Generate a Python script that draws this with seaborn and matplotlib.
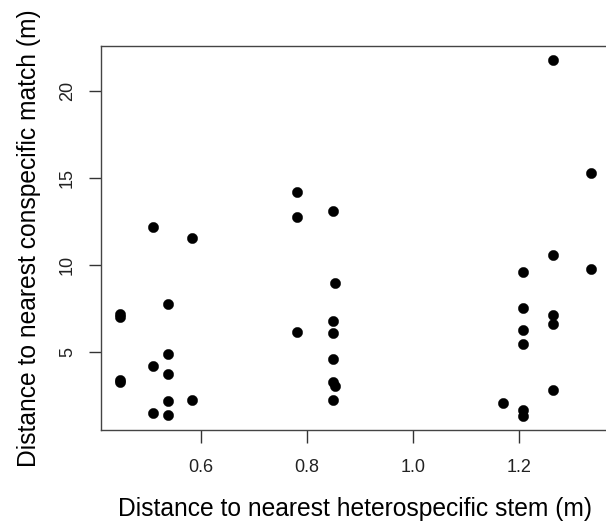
import matplotlib
matplotlib.use("Agg")
import matplotlib.pyplot as plt
import seaborn as sns
import pandas as pd

hetero_dist = [0.447, 0.447, 0.447, 0.447,
               0.509, 0.509, 0.509,
               0.538, 0.538, 0.538, 0.538, 0.538,
               0.583, 0.583,
               0.781, 0.781, 0.781,
               0.849, 0.854, 0.849, 0.849, 0.849, 0.849, 0.854, 0.849,
               1.170,
               1.208, 1.208, 1.208, 1.208, 1.208, 1.208,
               1.265, 1.265, 1.265, 1.265, 1.265,
               1.337, 1.337]
consp_dist = [7.19, 7.00, 3.35, 3.23,
              12.16, 4.19, 1.45,
              7.75, 4.85, 3.73, 2.16, 1.35,
              11.55, 2.22,
              14.16, 12.76, 6.11,
              13.08, 8.96, 6.75, 6.07, 4.58, 3.23, 3.00, 2.22,
              2.04,
              9.59, 7.52, 6.23, 5.46, 1.66, 1.31,
              21.76, 10.53, 7.12, 6.61, 2.81,
              15.29, 9.73]
x_ticks = [0.6, 0.8, 1.0, 1.2]
y_ticks = [5, 10, 15, 20]

df = pd.DataFrame({"x": hetero_dist, "y": consp_dist})

sns.set_style("ticks")
plt.rcParams["font.family"] = ["Liberation Sans", "DejaVu Sans"]

fig = plt.figure(figsize=(6.06, 5.22), dpi=100)
ax = fig.add_axes([101/606, 1-430/522, (610-101)/606, (430-46)/522])
sns.scatterplot(data=df, x="x", y="y", ax=ax, color="black", s=55,
                edgecolor="black", linewidth=0.3, legend=False)

xmin, xmax = min(hetero_dist), max(hetero_dist)
ymin, ymax = min(consp_dist), max(consp_dist)
ax.set_xlim(xmin - 0.04*(xmax-xmin), xmax + 0.04*(xmax-xmin))
ax.set_ylim(ymin - 0.04*(ymax-ymin), ymax + 0.04*(ymax-ymin))
ax.set_xticks(x_ticks)
ax.set_xticklabels([f"{t:.1f}" for t in x_ticks])
ax.set_yticks(y_ticks)
ax.set_yticklabels([str(t) for t in y_ticks], rotation=90, va="center")

for sp in ax.spines.values():
    sp.set_visible(True)
    sp.set_color("#444444")
    sp.set_linewidth(1.0)
ax.tick_params(axis="both", direction="out", length=9, width=1.0,
               color="#333333", labelsize=13, labelcolor="#222222")
ax.tick_params(axis="x", pad=12)
ax.tick_params(axis="y", pad=9)

ax.set_xlabel("Distance to nearest heterospecific stem (m)", fontsize=17.7,
              labelpad=15, color="black")
ax.set_ylabel("Distance to nearest conspecific match (m)", fontsize=17.7,
              labelpad=13, color="black")

fig.savefig("out.png", dpi=100, facecolor="white")
